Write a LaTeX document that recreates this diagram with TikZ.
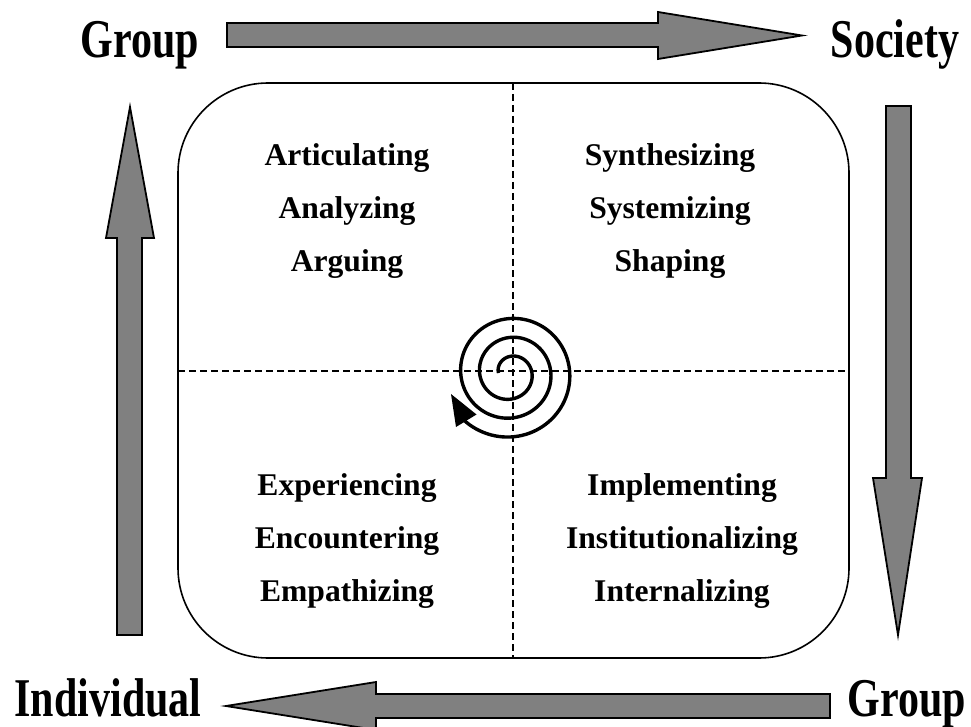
\documentclass[tikz,border=0pt]{standalone}
\usepackage{fontspec}
\setmainfont{Liberation Serif}
\definecolor{arrowgray}{HTML}{808080}
\newcommand{\tallword}[1]{\scalebox{1}[1.3]{#1}}
\begin{document}
\begin{tikzpicture}[x=1pt,y=-1pt,
  garrow/.style={fill=arrowgray, draw=black, line width=1.8pt, line join=miter},
  lbl/.style={font=\fontsize{31.6}{38}\selectfont\bfseries, anchor=base, inner sep=0pt},
  corner/.style={font=\fontsize{42}{50}\selectfont\bfseries, anchor=base, inner sep=0pt},
  divider/.style={dash pattern=on 7pt off 4pt, line width=1.6pt},
  frame/.style={line width=1.6pt, rounded corners=90pt}]
\useasboundingbox (0,0) rectangle (971,727);

% central rounded frame and dividers
\draw[frame] (178,83) rectangle (849,658);
\draw[divider] (513,83) -- (513,658);
\draw[divider] (178,371) -- (849,371);

% spiral
\draw[line width=3.4pt] plot[domain=0:1035, samples=300, smooth]
  ({510.5-(12+0.0525*\x)*cos(\x)}, {373-(12+0.0525*\x)*sin(\x)});
\fill (451,394) -- (476.5,414.5) -- (456,427) -- cycle;

% big grey arrows
\draw[garrow] (227,23) -- (658,23) -- (658,12) -- (802,35.5) -- (658,59) -- (658,47) -- (227,47) -- cycle;
\draw[garrow] (886,106) -- (911,106) -- (911,478) -- (922,478) -- (898,635) -- (873,478) -- (886,478) -- cycle;
\draw[garrow] (830,694) -- (376,694) -- (376,682) -- (226,706) -- (376,730) -- (376,718) -- (830,718) -- cycle;
\draw[garrow] (117,635) -- (142,635) -- (142,238) -- (154,238) -- (130,107) -- (106,238) -- (117,238) -- cycle;

% corner labels
\node[corner] (grouptop) at (140,58) {\tallword{Group}};
\node[corner] (society) at (895,58) {\tallword{Society}};
\node[corner] (individual) at (108,716) {\tallword{Individual}};
\node[corner] (groupbot) at (907,716) {\tallword{Group}};

% quadrant texts
\node[lbl] (q1a) at (347,166) {Articulating};
\node[lbl] (q1b) at (347,219) {Analyzing};
\node[lbl] (q1c) at (347,272) {Arguing};
\node[lbl] (q2a) at (670,166) {Synthesizing};
\node[lbl] (q2b) at (670,219) {Systemizing};
\node[lbl] (q2c) at (670,272) {Shaping};
\node[lbl] (q3a) at (347,495) {Experiencing};
\node[lbl] (q3b) at (347,548) {Encountering};
\node[lbl] (q3c) at (347,601) {Empathizing};
\node[lbl] (q4a) at (682,495) {Implementing};
\node[lbl] (q4b) at (682,548) {Institutionalizing};
\node[lbl] (q4c) at (682,601) {Internalizing};
\end{tikzpicture}
\end{document}
